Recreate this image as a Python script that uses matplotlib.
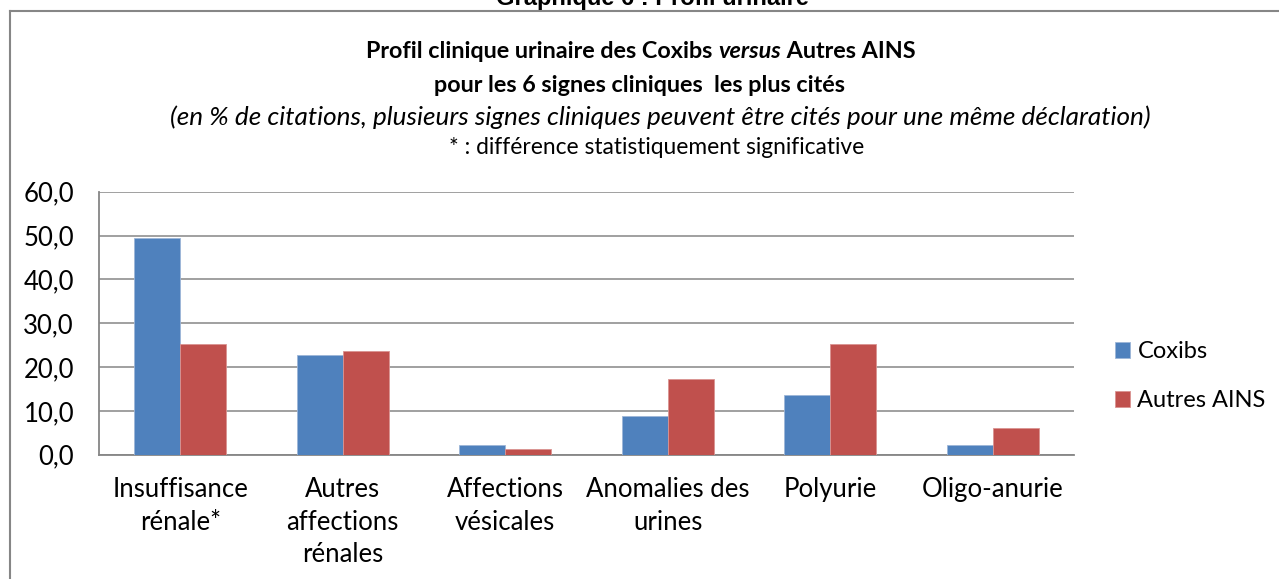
import matplotlib
matplotlib.use("Agg")
import matplotlib.pyplot as plt
from matplotlib.lines import Line2D
from matplotlib.ticker import FuncFormatter
import numpy as np

W, H = 1279, 579

categories = ["Insuffisance\nrénale*", "Autres\naffections\nrénales", "Affections\nvésicales",
              "Anomalies des\nurines", "Polyurie", "Oligo-anurie"]
coxibs = [49.4, 22.8, 2.1, 8.9, 13.7, 2.1]
autres_ains = [25.3, 23.7, 1.4, 17.3, 25.3, 6.1]
series_names = ["Coxibs", "Autres AINS"]
y_ticks = [0, 10, 20, 30, 40, 50, 60]

BLUE = "#4F81BD"
RED = "#C0504D"
GRID = "#868686"
FONT = ["Lato", "DejaVu Sans"]

plt.rcParams['font.family'] = FONT

fig = plt.figure(figsize=(W / 100, H / 100), dpi=100)

# px -> figure coords
def fx(px):
    return px / W
def fy(py):
    return 1 - py / H

ax = fig.add_axes([fx(99), fy(454.7), fx(1074) - fx(99), fy(191.7) - fy(454.7)])

x = np.arange(len(categories))
bw = 0.283
b1 = ax.bar(x - bw / 2, coxibs, bw, color=BLUE, edgecolor="#9DB6D8", linewidth=0.6, zorder=3, label=series_names[0])
b2 = ax.bar(x + bw / 2, autres_ains, bw, color=RED, edgecolor="#DA9391", linewidth=0.6, zorder=3, label=series_names[1])

ax.set_xlim(-0.5, len(categories) - 0.5)
ax.set_ylim(0, 60)
ax.set_yticks(y_ticks)
ax.yaxis.set_major_formatter(FuncFormatter(lambda v, p: f"{v:.1f}".replace(".", ",")))
ax.set_xticks(x)
ax.set_xticklabels(categories, linespacing=1.38)
ax.tick_params(axis="both", length=0, labelsize=18.5)
ax.tick_params(axis="y", pad=18)
ax.tick_params(axis="x", pad=16)
ax.grid(axis="y", color=GRID, linewidth=1.1, zorder=0)
ax.set_axisbelow(True)
for s in ["top", "right"]:
    ax.spines[s].set_visible(False)
for s in ["left", "bottom"]:
    ax.spines[s].set_color(GRID)
    ax.spines[s].set_linewidth(1.3)

leg = fig.legend(handles=[b1, b2], loc="upper left", bbox_to_anchor=(fx(1115), fy(341)),
                 frameon=False, fontsize=17, handlelength=0.65, handleheight=0.65,
                 handletextpad=0.3, labelspacing=1.2, borderpad=0, borderaxespad=0)

# outer frame
fig.add_artist(Line2D([fx(10), fx(10)], [fy(11), fy(H + 5)], color=GRID, lw=1.5))
fig.add_artist(Line2D([fx(10), fx(W + 5)], [fy(11), fy(11)], color=GRID, lw=1.5))

# document heading, cut at the top edge as in the source
fig.text(fx(652), fy(5), "Graphique 6 : Profil urinaire", ha="center", va="baseline",
         fontsize=17, fontweight="bold", family=["Liberation Sans Narrow", "Liberation Sans"])

renderer = fig.canvas.get_renderer()

def rich_line(pieces, cx, cy, size):
    texts = []
    for s, weight, style in pieces:
        t = fig.text(0, fy(cy), s, ha="left", va="center", fontsize=size,
                     fontweight=weight, fontstyle=style)
        texts.append(t)
    widths = [t.get_window_extent(renderer).width for t in texts]
    total = sum(widths)
    left = cx - total / 2
    for t, w in zip(texts, widths):
        t.set_x(fx(left))
        left += w

rich_line([("Profil clinique urinaire des Coxibs ", "bold", "normal"),
           ("versus", "bold", "italic"),
           (" Autres AINS", "bold", "normal")], 641, 52, 16.8)
rich_line([("pour les 6 signes cliniques  les plus cités", "bold", "normal")], 640, 85, 16.8)
rich_line([("(en % de citations, plusieurs signes cliniques peuvent être cités pour une même déclaration)",
            "normal", "italic")], 660, 117, 18.8)
rich_line([("* : différence statistiquement significative", "normal", "normal")], 657, 148, 16.4)

fig.savefig("out.png", dpi=100)
